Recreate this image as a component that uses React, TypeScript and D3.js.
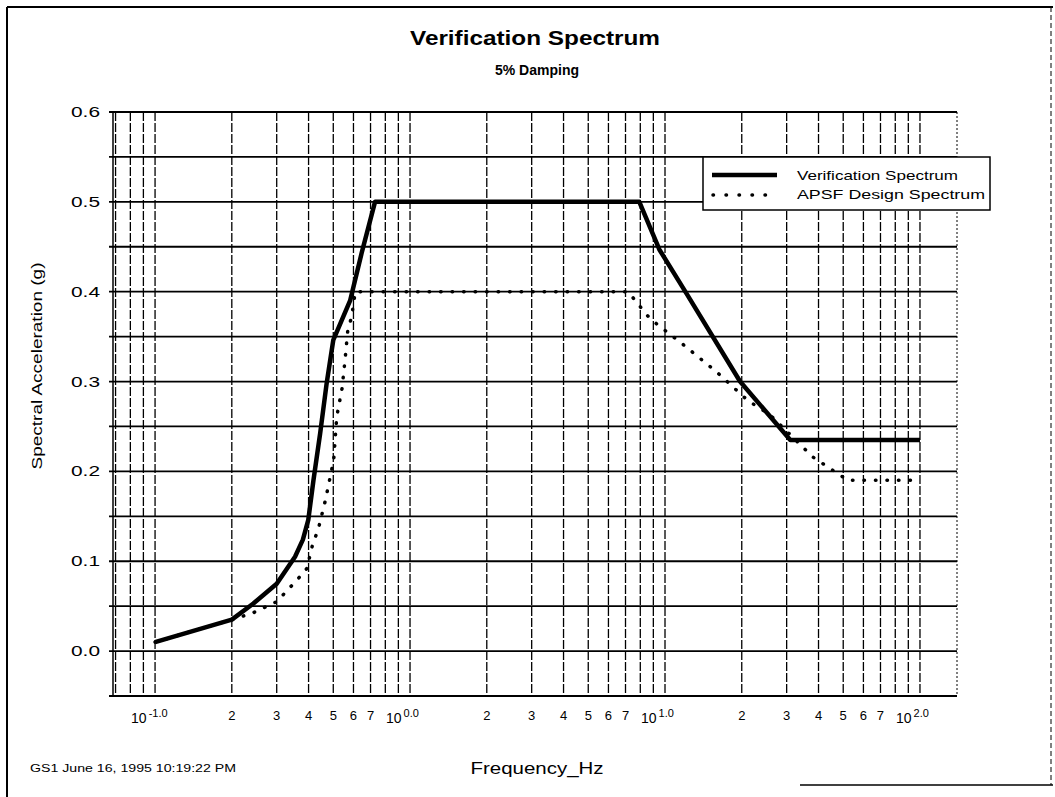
import React from "react";
import * as d3 from "d3";

// Verification Spectrum (solid)
const verFreq = [0.1, 0.2, 0.243, 0.3, 0.354, 0.38, 0.399, 0.418, 0.444, 0.471, 0.5, 0.582, 0.646, 0.729, 7.93, 9.5, 12.2, 19.7, 31, 100];
const verAccel = [0.01, 0.035, 0.053, 0.075, 0.105, 0.124, 0.146, 0.19, 0.242, 0.298, 0.346, 0.39, 0.443, 0.5, 0.5, 0.447, 0.397, 0.3, 0.235, 0.235];

// APSF Design Spectrum (dotted)
const apsfFreq = [0.1, 0.2, 0.24, 0.3, 0.36, 0.394, 0.416, 0.436, 0.464, 0.476, 0.502, 0.516, 0.541, 0.556, 0.57, 0.59, 0.61, 7.16, 8.73, 11.8, 15.9, 21.1, 25.8, 38, 52.2, 100];
const apsfAccel = [0.01, 0.035, 0.042, 0.055, 0.079, 0.092, 0.12, 0.135, 0.166, 0.181, 0.213, 0.261, 0.292, 0.324, 0.357, 0.372, 0.4, 0.4, 0.37, 0.341, 0.311, 0.279, 0.263, 0.216, 0.19, 0.19];

const yTicks = [0.0, 0.1, 0.2, 0.3, 0.4, 0.5, 0.6];
const yGrid = [-0.05, 0, 0.05, 0.1, 0.15, 0.2, 0.25, 0.3, 0.35, 0.4, 0.45, 0.5, 0.55, 0.6];
const decades = [0.1, 1, 10, 100];
const decadeLabels = ["-1.0", "0.0", "1.0", "2.0"];
const minorLabels = [2, 3, 4, 5, 6, 7];

const FONT = "'Liberation Sans', Arial, sans-serif";

export default function App() {
  const W = 1055;
  const H = 797;
  const left = 113, right = 957, top = 112, bottom = 696;

  const x = d3.scaleLog().domain([0.0684, 139.7]).range([left, right]);
  const y = d3.scaleLinear().domain([-0.05, 0.6]).range([bottom, top]);

  // vertical grid positions: 1..9 per decade inside domain
  const vGrid: number[] = [];
  [0.01, 0.1, 1, 10, 100].forEach(d => {
    for (let k = 1; k <= 9; k++) {
      const f = d * k;
      if (f > 0.0684 && f < 139.7) vGrid.push(f);
    }
  });

  const line = d3.line<[number, number]>()
    .x(d => x(d[0]))
    .y(d => y(d[1]));

  const verPath = line(verFreq.map((f, i) => [f, verAccel[i]]));
  const apsfPath = line(apsfFreq.map((f, i) => [f, apsfAccel[i]]));

  const minorTicks: number[] = [];
  [0.1, 1, 10].forEach(d => minorLabels.forEach(k => minorTicks.push(d * k)));

  return (
    <svg width={W} height={H} style={{ display: "block", position: "absolute", left: 0, top: 0, background: "#fff" }}>
      <rect x={0} y={0} width={W} height={H} fill="#fff" />
      {/* outer frame */}
      <line x1={7} y1={7} x2={1053} y2={7} stroke="#000" strokeWidth={2} />
      <line x1={7} y1={7} x2={7} y2={797} stroke="#000" strokeWidth={2} />
      <line x1={1051} y1={7} x2={1051} y2={785} stroke="#000" strokeWidth={1} strokeDasharray="5,3" />
      <line x1={800} y1={785} x2={1053} y2={785} stroke="#000" strokeWidth={1.5} />

      {/* title */}
      <text x={535} y={45} textAnchor="middle" fontFamily={FONT} fontWeight="bold" fontSize={21} textLength={250} lengthAdjust="spacingAndGlyphs">Verification Spectrum</text>
      <text x={537} y={75} textAnchor="middle" fontFamily={FONT} fontWeight="bold" fontSize={14}>5% Damping</text>

      {/* grid */}
      {vGrid.map((f, i) => (
        <line key={"v" + i} x1={x(f)} x2={x(f)} y1={top} y2={bottom} stroke="#000" strokeWidth={1.3} strokeDasharray="9,2" />
      ))}
      {yGrid.map((v, i) => (
        <line key={"h" + i} x1={left - 4} x2={right} y1={y(v)} y2={y(v)} stroke="#000" strokeWidth={1.8} />
      ))}

      {/* plot border */}
      <line x1={left} x2={left} y1={top} y2={bottom} stroke="#000" strokeWidth={1.5} />
      <line x1={left} x2={right} y1={bottom} y2={bottom} stroke="#000" strokeWidth={2.2} />
      <line x1={left} x2={right} y1={top} y2={top} stroke="#000" strokeWidth={1} />
      <line x1={right} x2={right} y1={top} y2={bottom} stroke="#000" strokeWidth={1} strokeDasharray="2,2" />

      {/* y tick labels */}
      {yTicks.map((v, i) => (
        <text key={"yt" + i} x={100} y={y(v) + 5} textAnchor="end" fontFamily={FONT} fontSize={15} textLength={29} lengthAdjust="spacingAndGlyphs">{v.toFixed(1)}</text>
      ))}

      {/* x tick labels */}
      {decades.map((d, i) => (
        <text key={"xd" + i} x={x(d) - 24} y={723} fontFamily={FONT} fontSize={14}>
          10<tspan dy={-6} fontSize={11} dx={2}>{decadeLabels[i]}</tspan>
        </text>
      ))}
      {minorTicks.map((f, i) => (
        <text key={"xm" + i} x={x(f)} y={720} textAnchor="middle" fontFamily={FONT} fontSize={13}>
          {Math.round(f / Math.pow(10, Math.floor(Math.log10(f) + 1e-9)))}
        </text>
      ))}

      {/* axis titles */}
      <text x={537} y={774} textAnchor="middle" fontFamily={FONT} fontSize={16} textLength={133} lengthAdjust="spacingAndGlyphs">Frequency_Hz</text>
      <text transform={`translate(42, 366) rotate(-90)`} textAnchor="middle" fontFamily={FONT} fontSize={14} textLength={207} lengthAdjust="spacingAndGlyphs">Spectral Acceleration (g)</text>
      <text x={30} y={772} fontFamily={FONT} fontSize={10} textLength={206} lengthAdjust="spacingAndGlyphs">GS1  June 16, 1995  10:19:22 PM</text>

      {/* series */}
      <path d={apsfPath || ""} fill="none" stroke="#000" strokeWidth={3.5} strokeLinecap="round" strokeDasharray="0.5,11" />
      <path d={verPath || ""} fill="none" stroke="#000" strokeWidth={4.5} strokeLinejoin="round" />

      {/* legend */}
      <rect x={703} y={157} width={287} height={53} fill="#fff" stroke="#000" strokeWidth={1.5} />
      <line x1={712} x2={777} y1={175} y2={175} stroke="#000" strokeWidth={4.5} />
      <line x1={713} x2={778} y1={195} y2={195} stroke="#000" strokeWidth={3.5} strokeLinecap="round" strokeDasharray="0.5,12.5" />
      <text x={797} y={180} fontFamily={FONT} fontSize={13} textLength={161} lengthAdjust="spacingAndGlyphs">Verification Spectrum</text>
      <text x={797} y={199} fontFamily={FONT} fontSize={13} textLength={188} lengthAdjust="spacingAndGlyphs">APSF Design Spectrum</text>
    </svg>
  );
}
